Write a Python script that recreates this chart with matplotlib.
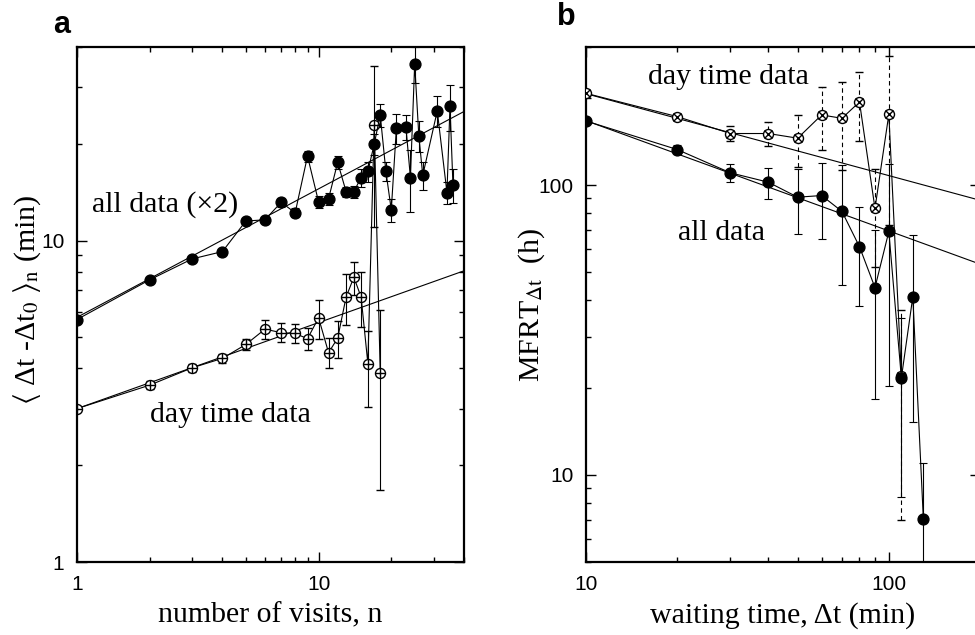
import matplotlib
matplotlib.use("Agg")
import matplotlib.pyplot as plt
from matplotlib.ticker import LogLocator, FuncFormatter, NullFormatter

# ---------------- Panel a data ----------------
n_all = [1, 2, 3, 4, 5, 6, 7, 8, 9, 10, 11, 12, 13, 14, 15, 16, 17, 18, 19, 20, 21,
         23, 24, 25, 26, 27, 31, 34, 35, 36]
v_all = [5.68, 7.55, 8.77, 9.24, 11.5, 11.6, 13.15, 12.2, 18.3, 13.2, 13.5, 17.5, 14.2, 14.2,
         15.7, 16.4, 19.96, 24.6, 16.4, 12.45, 22.4, 22.5, 15.7, 35.5, 21.2, 15.95, 25.3, 14.1,
         26.2, 14.9]
e_all = [0.1, 0.12, 0.15, 0.2, 0.25, 0.25, 0.4, 0.4, 0.7, 0.6, 0.6, 0.8, 0.5, 0.6,
         1.0, 1.2, 1.5, 2.0, 1.1, 1.0, 2.4, 2.0, 3.4, 4.6, 2.4, 1.6, 2.8, 1.1, 4.3, 1.8]

n_day = [1, 2, 3, 4, 5, 6, 7, 8, 9, 10, 11, 12, 13, 14, 15, 16, 17, 18]
v_day = [3.0, 3.55, 4.02, 4.30, 4.75, 5.30, 5.17, 5.14, 4.95, 5.75, 4.48, 4.97, 6.67, 7.69,
         6.67, 4.14, 22.9, 3.87]
e_day = [0.05, 0.1, 0.12, 0.15, 0.2, 0.35, 0.35, 0.35, 0.4, 0.8, 0.48, 0.65, 1.2, 0.9,
         1.3, 1.1, 11.9, 2.2]

fitA_all_x = [1, 40]
fitA_all_y = [5.77, 25.2]
fitA_day_x = [1, 40]
fitA_day_y = [3.0, 8.05]

# ---------------- Panel b data ----------------
t_day = [10, 20, 30, 40, 50, 60, 70, 80, 90, 100, 110]
m_day = [207.6, 172.5, 150.8, 150.8, 145.3, 174.8, 170.2, 193.8, 83.1, 175.7, 22.0]
me_day = [3, 3, 9, 14, 30, 43, 57, 52, 31, 103, 15]

t_all = [10, 20, 30, 40, 50, 60, 70, 80, 90, 100, 110, 120, 130]
m_all = [166.6, 132.8, 110.3, 102.4, 90.9, 92.1, 81.2, 61.3, 44.3, 69.2, 21.6, 41.2, 7.05]
me_all = [3, 4.3, 8, 12.5, 23, 27, 36, 23, 26, 49, 13.2, 26, 3.9]

fitB_day_x = [10, 200]
fitB_day_y = [207, 88.7]
fitB_all_x = [10, 200]
fitB_all_y = [167, 53.4]

# ---------------- style ----------------
plt.rcParams['font.family'] = ['Liberation Serif', 'DejaVu Serif']
plt.rcParams['mathtext.fontset'] = 'stix'
SANS = 'Liberation Sans'
W, H = 975, 635
FS_LABEL = 21.5
FS_TEXT = 21.5

fig = plt.figure(figsize=(9.75, 6.35), dpi=100)
axA = fig.add_axes([77/W, 73/H, (464-77)/W, (562-47)/H])
axB = fig.add_axes([586/W, 73/H, (980-586)/W, (562-47)/H])

lw = 0.8
cap = 3.2


def ptext(x, y, s, **kw):
    fig.text(x / W, 1 - y / H, s, **kw)


def style_axes(ax):
    ax.set_xscale('log')
    ax.set_yscale('log')
    for s in ax.spines.values():
        s.set_linewidth(1.6)
    ax.tick_params(which='both', direction='in', top=True, right=True)
    ax.tick_params(which='major', length=7, width=1.0, labelsize=15, pad=9)
    ax.tick_params(which='minor', length=3.5, width=1.0)
    fmt = FuncFormatter(lambda v, p: '%g' % v)
    ax.xaxis.set_major_formatter(fmt)
    ax.yaxis.set_major_formatter(fmt)
    ax.xaxis.set_minor_formatter(NullFormatter())
    ax.yaxis.set_minor_formatter(NullFormatter())
    ax.xaxis.set_minor_locator(LogLocator(base=10, subs=range(2, 10)))
    ax.yaxis.set_minor_locator(LogLocator(base=10, subs=range(2, 10)))


# ---------------- Panel a ----------------
style_axes(axA)
axA.plot(fitA_all_x, fitA_all_y, color='black', lw=lw)
axA.plot(fitA_day_x, fitA_day_y, color='black', lw=lw)
axA.errorbar(n_day, v_day, yerr=e_day, fmt='-', color='black', lw=lw, elinewidth=lw,
             capsize=cap, capthick=lw, marker='o', ms=7.2, mfc='white', mec='black', mew=1.0,
             zorder=3)
axA.plot(n_day, v_day, ls='none', marker='+', ms=7.2, mew=1.0, color='black', zorder=6)
axA.errorbar(n_all, v_all, yerr=e_all, fmt='-', color='black', lw=lw, elinewidth=lw,
             capsize=cap, capthick=lw, marker='o', ms=7.8, mfc='black', mec='black',
             zorder=3)
axA.set_xlim(1, 40)
axA.set_ylim(1, 40)
for lab in axA.get_xticklabels() + axA.get_yticklabels():
    lab.set_family(SANS)
axA.set_xlabel('number of visits, n', fontsize=FS_LABEL)
axA.set_ylabel(r'$\langle$ Δt -Δt$_0$ $\rangle_{\rm n}$ (min)', fontsize=FS_LABEL)
axA.xaxis.set_label_coords(0.5, -0.078)
axA.yaxis.set_label_coords(-0.088, 0.51)
ptext(92, 205, 'all data (×2)', fontsize=FS_TEXT, va='center', ha='left')
ptext(150, 415, 'day time data', fontsize=FS_TEXT, va='center', ha='left')
ptext(53, 25, 'a', fontsize=22, fontweight='bold', family=SANS, ha='left', va='center')

# ---------------- Panel b ----------------
style_axes(axB)
axB.plot(fitB_day_x, fitB_day_y, color='black', lw=lw)
axB.plot(fitB_all_x, fitB_all_y, color='black', lw=lw)
eb = axB.errorbar(t_day, m_day, yerr=me_day, fmt='-', color='black', lw=lw, elinewidth=lw,
                  capsize=cap, capthick=lw, marker='o', ms=7.2, mfc='white', mec='black',
                  mew=1.0, zorder=3)
for c in eb[2]:
    c.set_linestyle((0, (4, 3)))
axB.plot(t_day, m_day, ls='none', marker='x', ms=5.2, mew=1.0, color='black', zorder=6)
axB.errorbar(t_all, m_all, yerr=me_all, fmt='-', color='black', lw=lw, elinewidth=lw,
             capsize=cap, capthick=lw, marker='o', ms=7.8, mfc='black', mec='black',
             zorder=3)
axB.set_xlim(10, 200)
axB.set_ylim(5, 300)
for lab in axB.get_xticklabels() + axB.get_yticklabels():
    lab.set_family(SANS)
axB.set_xlabel('waiting time, Δt (min)', fontsize=FS_LABEL)
axB.set_ylabel(r'MFRT$_{\Delta \rm t}$  (h)', fontsize=FS_LABEL)
axB.xaxis.set_label_coords(0.5, -0.078)
axB.yaxis.set_label_coords(-0.099, 0.5)
ptext(648, 77, 'day time data', fontsize=FS_TEXT, va='center', ha='left')
ptext(678, 233, 'all data', fontsize=FS_TEXT, va='center', ha='left')
ptext(557, 17, 'b', fontsize=22, fontweight='bold', family=SANS, ha='left', va='center')

fig.savefig('out.png', dpi=100)
